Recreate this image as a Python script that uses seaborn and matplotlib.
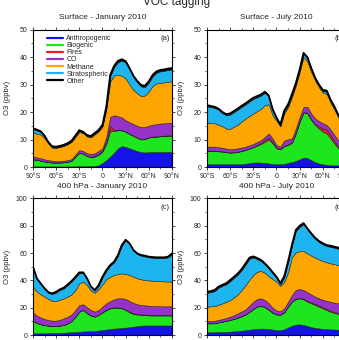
import matplotlib
matplotlib.use("Agg")
import matplotlib.pyplot as plt
import seaborn as sns
import numpy as np
from matplotlib.lines import Line2D
from matplotlib.ticker import MultipleLocator, FixedLocator, FixedFormatter

sns.set_theme(style="ticks")
plt.rcParams['font.family'] = ['Liberation Sans', 'DejaVu Sans']

# latitude grid (deg)
lat = [-90, -85, -80, -75, -70, -65, -60, -55, -50, -45, -40, -35, -30, -25, -20, -15, -10, -5,
       0, 5, 10, 15, 20, 25, 30, 35, 40, 45, 50, 55, 60, 65, 70, 75, 80, 85, 90]

tracers = ['Anthropogenic', 'Biogenic', 'Fires', 'CO', 'Methane', 'Stratospheric', 'Other']
colors = ['#1414e6', '#1ee61e', '#e61e1e', '#9632c8', '#ffa500', '#1eb4f0', '#000000']

# Surface - January 2010
sfc_jan_anthro = [0.2, 0.2, 0.2, 0.2, 0.2, 0.2, 0.2, 0.2, 0.2, 0.2, 0.2, 0.2, 0.3, 0.3, 0.3, 0.3, 0.4, 0.6,
                  1.5, 2.5, 3.8, 5.2, 6.8, 7.6, 7.3, 6.8, 6.3, 5.8, 5.4, 5.3, 5.4, 5.5, 5.5, 5.5, 5.5, 5.5, 5.5]
sfc_jan_bio = [2.6, 2.4, 2.1, 1.8, 1.6, 1.4, 1.4, 1.4, 1.5, 1.7, 2.1, 3.6, 4.9, 4.5, 3.7, 3.3, 3.4, 3.9,
               4.1, 6.0, 9.4, 7.8, 6.6, 5.7, 5.5, 5.2, 5.0, 4.8, 4.6, 4.9, 5.3, 5.5, 5.5, 5.7, 5.8, 5.9, 5.9]
sfc_jan_fires = [0.05, 0.05, 0.05, 0.05, 0.05, 0.05, 0.05, 0.05, 0.05, 0.05, 0.05, 0.05, 0.05, 0.05, 0.05, 0.1, 0.2, 0.3,
                 0.5, 0.8, 1.8, 0.4, 0.2, 0.1, 0.1, 0.1, 0.1, 0.1, 0.1, 0.1, 0.1, 0.1, 0.1, 0.1, 0.1, 0.1, 0.1]
sfc_jan_co = [0.95, 0.85, 0.85, 0.75, 0.65, 0.65, 0.55, 0.55, 0.55, 0.55, 0.55, 0.75, 0.95, 0.95, 0.95, 1.0, 1.0, 1.0,
              0.7, 1.7, 3.3, 5.4, 4.9, 4.6, 4.1, 4.2, 4.2, 4.3, 4.4, 4.3, 4.2, 4.3, 4.5, 4.5, 4.5, 4.5, 4.6]
sfc_jan_methane = [8.7, 8.6, 8.6, 7.7, 6.0, 4.7, 4.8, 5.1, 5.4, 5.8, 6.3, 6.4, 6.6, 6.5, 6.1, 6.1, 6.9, 7.2,
                   8.0, 10.0, 12.7, 14.5, 15.0, 15.2, 15.2, 13.7, 12.4, 11.8, 11.3, 11.4, 12.5, 14.1, 14.8, 14.8, 14.9, 15.0, 15.1]
sfc_jan_strat = [1.3, 1.2, 0.9, 0.6, 0.2, 0.2, 0.1, 0.1, 0.1, 0.1, 0.1, 0.2, 0.3, 0.2, 0.2, 0.2, 0.2, 0.2,
                 0.3, 0.6, 2.0, 3.0, 4.6, 5.5, 5.8, 5.5, 4.7, 4.0, 3.5, 3.1, 3.2, 3.5, 3.9, 4.2, 4.2, 4.3, 4.3]
sfc_jan_other = [0.3, 0.3, 0.3, 0.3, 0.3, 0.3, 0.3, 0.3, 0.3, 0.3, 0.3, 0.3, 0.3, 0.3, 0.3, 0.3, 0.3, 0.3,
                 0.3, 0.4, 0.5, 0.5, 0.5, 0.5, 0.5, 0.5, 0.5, 0.5, 0.5, 0.5, 0.5, 0.5, 0.5, 0.5, 0.5, 0.5, 0.5]

# Surface - July 2010
sfc_jul_anthro = [1.0, 1.0, 1.0, 1.0, 1.0, 1.0, 1.0, 1.0, 1.0, 1.1, 1.2, 1.4, 1.6, 1.7, 1.6, 1.5, 1.3, 1.1,
                  1.0, 1.0, 1.1, 1.5, 1.8, 2.2, 2.8, 3.4, 3.3, 2.5, 1.8, 1.3, 1.0, 0.8, 0.7, 0.6, 0.6, 0.6, 0.6]
sfc_jul_bio = [4.9, 4.85, 4.8, 4.7, 4.6, 4.4, 4.2, 4.3, 4.5, 4.7, 5.0, 5.3, 5.6, 6.1, 6.8, 7.7, 8.7, 7.5,
               5.8, 5.4, 6.5, 6.5, 7.0, 10.0, 13.7, 16.4, 16.2, 14.6, 13.5, 12.7, 11.8, 11.4, 9.7, 8.0, 6.2, 5.0, 4.4]
sfc_jul_fires = [0.1, 0.1, 0.1, 0.1, 0.1, 0.1, 0.1, 0.1, 0.1, 0.1, 0.1, 0.1, 0.1, 0.2, 0.4, 0.7, 0.8, 0.4,
                 0.2, 0.2, 0.2, 0.2, 0.2, 0.2, 0.2, 0.2, 0.2, 0.2, 0.4, 0.8, 1.2, 1.4, 1.3, 0.9, 0.5, 0.3, 0.2]
sfc_jul_co = [1.4, 1.45, 1.5, 1.4, 1.3, 1.2, 1.2, 1.2, 1.2, 1.2, 1.1, 1.1, 1.1, 1.1, 1.0, 1.1, 1.4, 1.4,
              1.0, 0.8, 1.8, 1.9, 1.4, 1.6, 1.6, 1.9, 2.2, 2.2, 2.0, 1.9, 1.9, 1.7, 2.0, 2.1, 2.5, 2.5, 2.2]
sfc_jul_methane = [8.8, 8.6, 8.5, 8.1, 7.8, 7.3, 7.4, 8.1, 8.6, 9.5, 10.2, 10.7, 11.1, 11.2, 11.4, 11.5, 10.6, 8.4,
                   8.8, 7.4, 9.9, 11.7, 15.0, 15.6, 16.3, 18.1, 16.4, 15.1, 13.7, 12.3, 11.1, 11.3, 9.7, 9.3, 8.3, 7.9, 7.5]
sfc_jul_strat = [5.9, 5.8, 5.6, 5.5, 4.8, 4.8, 5.2, 5.3, 5.5, 5.3, 5.2, 5.2, 5.3, 5.1, 4.8, 4.5, 2.8, 1.8,
                 0.8, 0.3, 0.6, 0.6, 0.7, 0.5, 0.5, 1.1, 1.3, 1.0, 0.7, 0.6, 0.6, 0.8, 0.7, 0.7, 0.5, 0.3, 0.2]
sfc_jul_other = [0.4] * 37

# 400 hPa - January 2010
p400_jan_anthro = [1.2, 1.2, 1.3, 1.3, 1.4, 1.4, 1.5, 1.6, 1.7, 1.9, 2.0, 2.2, 2.4, 2.6, 2.7, 2.8, 2.9, 3.3,
                   3.7, 4.0, 4.4, 4.7, 4.9, 5.2, 5.4, 5.7, 6.1, 6.5, 6.8, 7.0, 7.0, 7.0, 7.0, 7.0, 7.0, 7.0, 7.0]
p400_jan_bio = [9.3, 7.6, 6.5, 5.9, 5.4, 5.2, 5.1, 5.3, 5.6, 6.6, 8.3, 11.2, 14.7, 15.7, 13.2, 11.4, 10.5, 11.4,
                12.9, 14.3, 15.1, 15.3, 15.1, 14.3, 12.9, 10.9, 9.3, 8.5, 7.9, 7.5, 7.4, 7.3, 7.3, 7.3, 7.3, 7.3, 7.3]
p400_jan_fires = [0.1, 0.1, 0.1, 0.1, 0.1, 0.1, 0.1, 0.1, 0.1, 0.1, 0.1, 0.2, 0.2, 0.2, 0.2, 0.2, 0.2, 0.2,
                  0.2, 0.3, 0.3, 0.3, 0.3, 0.3, 0.3, 0.4, 0.4, 0.4, 0.4, 0.4, 0.4, 0.4, 0.4, 0.4, 0.4, 0.4, 0.4]
p400_jan_co = [6.0, 5.3, 5.0, 4.4, 4.1, 3.8, 3.8, 4.2, 4.8, 4.8, 4.7, 4.7, 4.7, 4.0, 4.2, 3.9, 3.5, 3.4,
               4.0, 4.6, 5.1, 5.8, 6.6, 7.1, 7.8, 7.9, 7.7, 7.1, 6.9, 6.8, 6.7, 6.6, 6.5, 6.4, 6.3, 6.3, 6.3]
p400_jan_methane = [18.8, 17.5, 16.9, 16.4, 15.4, 14.4, 14.4, 14.7, 14.7, 14.7, 14.7, 14.7, 15.9, 16.6, 16.3, 14.2, 13.9, 15.4,
                    16.3, 17.8, 17.8, 17.9, 17.8, 18.3, 18.3, 19.1, 19.2, 19.0, 18.8, 18.6, 18.5, 18.5, 18.4, 18.4, 18.3, 18.2, 18.1]
p400_jan_strat = [14.1, 9.3, 7.5, 5.6, 4.4, 5.1, 6.3, 7.1, 7.3, 8.5, 9.3, 9.2, 7.5, 6.3, 4.4, 2.5, 1.5, 2.4,
                  5.1, 6.1, 8.1, 9.2, 13.4, 20.2, 24.6, 22.7, 19.1, 17.8, 17.3, 17.3, 16.9, 16.8, 16.8, 16.9, 17.1, 17.7, 20.2]
p400_jan_other = [0.5] * 37

# 400 hPa - July 2010
p400_jul_anthro = [2.0, 2.0, 2.1, 2.2, 2.3, 2.4, 2.5, 2.7, 2.9, 3.2, 3.5, 3.9, 4.3, 4.6, 4.7, 4.6, 4.4, 4.0,
                   3.6, 3.5, 4.2, 5.5, 6.8, 7.6, 7.8, 7.4, 6.6, 5.8, 5.2, 4.8, 4.5, 4.3, 4.1, 4.0, 3.9, 3.9, 3.9]
p400_jul_bio = [6.5, 6.5, 6.5, 7.0, 7.5, 8.0, 8.5, 9.1, 9.8, 10.6, 11.6, 13.1, 14.7, 16.2, 16.5, 15.7, 13.9, 12.2,
                11.4, 11.3, 12.3, 15.3, 17.6, 18.8, 19.1, 18.7, 17.8, 17.4, 16.8, 15.9, 15.0, 13.9, 12.9, 12.2, 11.6, 10.9, 10.3]
p400_jul_fires = [0.1, 0.1, 0.1, 0.1, 0.1, 0.1, 0.1, 0.1, 0.1, 0.1, 0.1, 0.1, 0.3, 0.3, 0.3, 0.3, 0.3, 0.3,
                  0.2, 0.2, 0.2, 0.2, 0.2, 0.2, 0.2, 0.3, 0.5, 0.7, 0.8, 0.9, 0.9, 0.9, 0.8, 0.7, 0.6, 0.5, 0.5]
p400_jul_co = [1.7, 1.7, 1.8, 1.8, 1.8, 2.0, 2.3, 2.7, 3.1, 3.4, 3.6, 4.4, 5.1, 5.3, 5.4, 5.0, 4.6, 3.5,
               2.8, 2.5, 2.8, 3.4, 4.7, 6.4, 6.6, 6.6, 6.4, 5.8, 5.3, 5.3, 5.4, 5.9, 6.5, 6.8, 7.1, 7.4, 7.6]
p400_jul_methane = [10.5, 10.7, 10.7, 11.1, 11.5, 11.9, 12.2, 13.0, 13.9, 15.7, 17.8, 19.0, 19.6, 20.0, 20.0, 19.9, 19.8, 21.0,
                    21.0, 18.5, 19.5, 21.6, 27.7, 27.6, 27.8, 28.5, 28.5, 28.4, 28.6, 28.5, 28.4, 28.3, 28.2, 28.2, 28.1, 28.2, 28.2]
p400_jul_strat = [10.1, 10.4, 11.0, 12.5, 12.8, 12.8, 13.9, 14.3, 14.6, 14.6, 15.1, 15.4, 12.8, 9.2, 7.3, 6.2, 5.7, 4.2,
                  2.9, 1.2, 3.2, 7.2, 8.2, 15.5, 17.7, 19.7, 17.5, 15.6, 13.8, 12.7, 12.2, 11.8, 12.1, 12.0, 11.9, 11.8, 11.7]
p400_jul_other = [0.8] * 37

lat_ticks = [-90, -60, -30, 0, 30, 60, 90]
lat_labels = ['90°S', '60°S', '30°S', '0', '30°N', '60°N', '90°N']


def draw_panel(ax, layers, ymax, ystep, title, tag, legend=False):
    ax.stackplot(lat, *layers, colors=colors, edgecolor='#1a1a1a', linewidth=0.35)
    total = np.sum(np.array(layers), axis=0)
    sns.lineplot(x=lat, y=total, ax=ax, color='black', linewidth=1.3)

    ax.set_xlim(-90, 90)
    ax.set_ylim(0, ymax)
    ax.xaxis.set_major_locator(FixedLocator(lat_ticks))
    ax.xaxis.set_major_formatter(FixedFormatter(lat_labels))
    ax.xaxis.set_minor_locator(MultipleLocator(15))
    ax.yaxis.set_major_locator(MultipleLocator(ystep))
    ax.yaxis.set_minor_locator(MultipleLocator(ystep / 2))
    ax.tick_params(which='major', direction='out', length=2.5, width=0.6, labelsize=5,
                   pad=1.5, top=True, right=True)
    ax.tick_params(which='minor', direction='out', length=1.3, width=0.5, top=True, right=True)
    for s in ax.spines.values():
        s.set_linewidth(0.8)
        s.set_color('black')

    ax.set_xlabel('')
    ax.set_ylabel('O3 (ppbv)', fontsize=5.5)
    ax.yaxis.set_label_coords(-0.16, 0.5)
    ax.text(0.5, 1.088, title, transform=ax.transAxes, ha='center', va='center', fontsize=6)
    ax.text(0.985, 0.96, tag, transform=ax.transAxes, ha='right', va='top', fontsize=5.5)

    if legend:
        handles = [Line2D([0], [0], color=c, lw=1.6) for c in colors]
        ax.legend(handles, tracers, loc='upper left', bbox_to_anchor=(0.06, 1.0), frameon=False,
                  fontsize=5, handlelength=2.3, handletextpad=0.5, labelspacing=0.02,
                  borderpad=0.3)


fig = plt.figure(figsize=(3.39, 3.40), dpi=100)
ax_a = fig.add_axes([0.0973, 0.5088, 0.410, 0.4044])
ax_b = fig.add_axes([0.6106, 0.5088, 0.410, 0.4044])
ax_c = fig.add_axes([0.0973, 0.0147, 0.410, 0.4015])
ax_d = fig.add_axes([0.6106, 0.0147, 0.410, 0.4015])

draw_panel(ax_a, [sfc_jan_anthro, sfc_jan_bio, sfc_jan_fires, sfc_jan_co, sfc_jan_methane,
                  sfc_jan_strat, sfc_jan_other], 50, 10, 'Surface - January 2010', '(a)', legend=True)
draw_panel(ax_b, [sfc_jul_anthro, sfc_jul_bio, sfc_jul_fires, sfc_jul_co, sfc_jul_methane,
                  sfc_jul_strat, sfc_jul_other], 50, 10, 'Surface - July 2010', '(b)')
draw_panel(ax_c, [p400_jan_anthro, p400_jan_bio, p400_jan_fires, p400_jan_co, p400_jan_methane,
                  p400_jan_strat, p400_jan_other], 100, 20, '400 hPa - January 2010', '(c)')
draw_panel(ax_d, [p400_jul_anthro, p400_jul_bio, p400_jul_fires, p400_jul_co, p400_jul_methane,
                  p400_jul_strat, p400_jul_other], 100, 20, '400 hPa - July 2010', '(d)')

fig.text(0.52, 0.994, 'VOC tagging', ha='center', va='center', fontsize=8.5)

fig.savefig('out.png', dpi=100)
